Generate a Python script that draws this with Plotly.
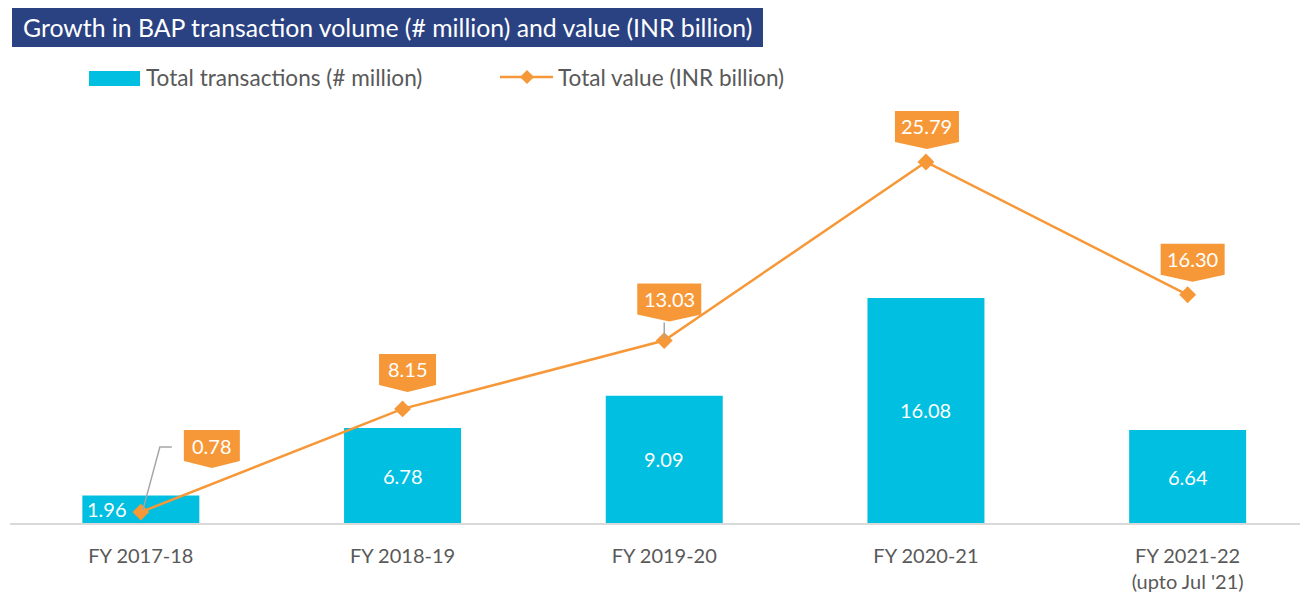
import plotly.graph_objects as go

# ---------------- data ----------------
categories = ["FY 2017-18", "FY 2018-19", "FY 2019-20", "FY 2020-21", "FY 2021-22<br>(upto Jul '21)"]
transactions = [1.96, 6.78, 9.09, 16.08, 6.64]          # # million (bars)
values_inr = [0.78, 8.15, 13.03, 25.79, 16.30]          # INR billion (line)
bar_labels = ["1.96", "6.78", "9.09", "16.08", "6.64"]
value_labels = ["0.78", "8.15", "13.03", "25.79", "16.30"]
title_text = "Growth in BAP transaction volume (# million) and value (INR billion)"
legend_bar = "Total transactions (# million)"
legend_line = "Total value (INR billion)"

# ---------------- style ----------------
OFF = 8                      # page body margin
W, H = 1300, 587
ML, MR, MT, MB = 2, 3, 92, 72
PW, PH = W - ML - MR, H - MT - MB
PX_PER_X = 261.7
PX_PER_Y = 14.0
X0 = -0.5
YMAX = PH / PX_PER_Y
CYAN = "#00BFE0"
ORANGE = "#F79838"
NAVY = "#2A4282"
GREY_TXT = "#595959"
FONT = "Lato"

def dx(px):
    return px / PX_PER_X

def dy(px):
    return px / PX_PER_Y

def paper_x(px):
    return (px - OFF - ML) / PW

def paper_y(py):
    return (H - MB - (py - OFF)) / PH

# callout style per point: box centre offset (px), tip gap above marker (px), box width (px)
callout_dx = [71, 5, 5, 1, 5]
callout_gap = [44, 17, 19, 13, 13]
callout_w = [56, 57, 64, 64, 64]
BOX_H = 31
TIP_D = 7
bar_label_dx = [-34, 0, 0, 0, 0]

fig = go.Figure()
x_idx = list(range(len(categories)))

fig.add_trace(go.Bar(x=x_idx, y=transactions, marker=dict(color=CYAN, line=dict(width=0)),
                     width=0.447, hoverinfo="skip", showlegend=False))
fig.add_trace(go.Scatter(x=x_idx, y=values_inr, mode="lines+markers",
                         line=dict(color=ORANGE, width=2.5),
                         marker=dict(symbol="diamond", size=13, color=ORANGE),
                         hoverinfo="skip", showlegend=False))

shapes = []
annotations = []

# bar labels
for i, (v, lab) in enumerate(zip(transactions, bar_labels)):
    annotations.append(dict(x=i + dx(bar_label_dx[i]), y=v / 2, xref="x", yref="y", text=lab,
                            showarrow=False, font=dict(family=FONT, size=20, color="white"),
                            xanchor="center", yanchor="middle"))

# value callouts
for i, (v, lab) in enumerate(zip(values_inr, value_labels)):
    cx = i + dx(callout_dx[i])
    tip = v + dy(callout_gap[i])
    rb = tip + dy(TIP_D)
    top = rb + dy(BOX_H)
    hw = dx(callout_w[i] / 2)
    path = (f"M {cx - hw},{top} L {cx + hw},{top} L {cx + hw},{rb} "
            f"L {cx},{tip} L {cx - hw},{rb} Z")
    shapes.append(dict(type="path", path=path, xref="x", yref="y",
                       fillcolor=ORANGE, line=dict(width=0), layer="above"))
    annotations.append(dict(x=cx, y=(rb + top) / 2, xref="x", yref="y", text=lab,
                            showarrow=False, font=dict(family=FONT, size=20, color="white"),
                            xanchor="center", yanchor="middle"))

# leader lines
v0 = values_inr[0]
shapes.append(dict(type="path", xref="x", yref="y", layer="above",
                   path=(f"M {0 + dx(31)},{v0 + dy(65)} L {0 + dx(19)},{v0 + dy(65)} "
                         f"L {0 + dx(2)},{v0 + dy(2)}"),
                   line=dict(color="#A6A6A6", width=1.5)))
v2 = values_inr[2]
shapes.append(dict(type="line", xref="x", yref="y", layer="above",
                   x0=2, x1=2, y0=v2 + dy(2), y1=v2 + dy(18),
                   line=dict(color="#A6A6A6", width=1.5)))

# title box
shapes.append(dict(type="rect", xref="paper", yref="paper",
                   x0=paper_x(12), x1=paper_x(763), y0=paper_y(47), y1=paper_y(8),
                   fillcolor=NAVY, line=dict(width=0)))
annotations.append(dict(x=paper_x(21), y=paper_y(28), xref="paper", yref="paper",
                        text=title_text, showarrow=False, xanchor="left", yanchor="middle",
                        font=dict(family=FONT, size=24.8, color="white")))

# legend
shapes.append(dict(type="rect", xref="paper", yref="paper",
                   x0=paper_x(89), x1=paper_x(140), y0=paper_y(86), y1=paper_y(71),
                   fillcolor=CYAN, line=dict(width=0)))
annotations.append(dict(x=paper_x(144), y=paper_y(78), xref="paper", yref="paper",
                        text=legend_bar, showarrow=False, xanchor="left", yanchor="middle",
                        font=dict(family=FONT, size=22.6, color=GREY_TXT)))
shapes.append(dict(type="line", xref="paper", yref="paper",
                   x0=paper_x(500), x1=paper_x(553), y0=paper_y(77), y1=paper_y(77),
                   line=dict(color=ORANGE, width=2.5)))
shapes.append(dict(type="path", xref="paper", yref="paper",
                   path=(f"M {paper_x(520)},{paper_y(77)} L {paper_x(527)},{paper_y(70)} "
                         f"L {paper_x(534)},{paper_y(77)} L {paper_x(527)},{paper_y(84)} Z"),
                   fillcolor=ORANGE, line=dict(width=0)))
annotations.append(dict(x=paper_x(556), y=paper_y(78), xref="paper", yref="paper",
                        text=legend_line, showarrow=False, xanchor="left", yanchor="middle",
                        font=dict(family=FONT, size=22.6, color=GREY_TXT)))

fig.update_layout(
    width=W, height=H,
    margin=dict(l=ML, r=MR, t=MT, b=MB, pad=0),
    paper_bgcolor="white", plot_bgcolor="white",
    shapes=shapes, annotations=annotations,
    showlegend=False, bargap=0.5,
    font=dict(family=FONT, color=GREY_TXT),
    xaxis=dict(range=[X0, X0 + PW / PX_PER_X], tickmode="array", tickvals=x_idx,
               ticktext=categories, showgrid=False, zeroline=False,
               showline=True, linecolor="#D9D9D9", linewidth=2,
               ticks="", ticklabelstandoff=14,
               tickfont=dict(family=FONT, size=20, color=GREY_TXT)),
    yaxis=dict(range=[0, YMAX], visible=False, showgrid=False, zeroline=False),
)

fig.write_html("out.html")
